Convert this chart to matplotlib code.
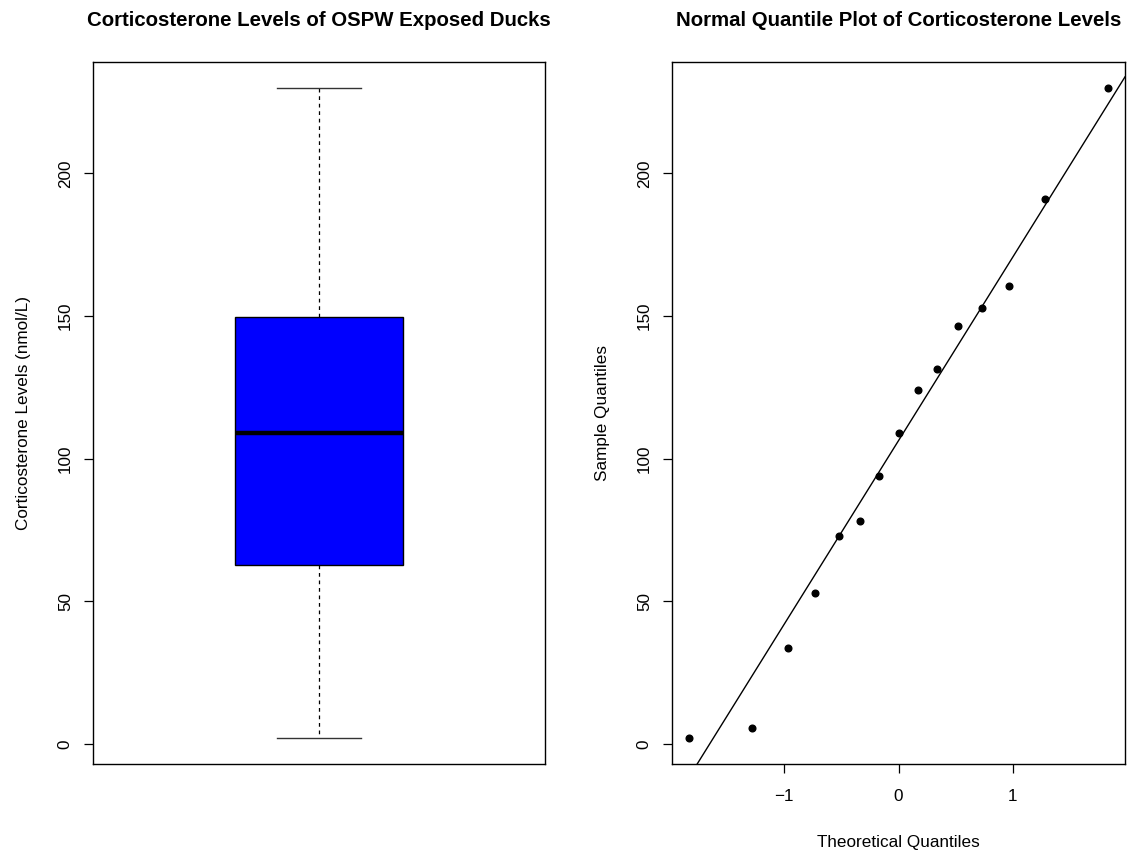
import matplotlib
matplotlib.use("Agg")
import matplotlib.pyplot as plt
import numpy as np

plt.rcParams['font.family'] = ['Liberation Sans', 'DejaVu Sans']

# corticosterone levels (nmol/L)
levels = [2.0, 5.6, 33.6, 53.0, 72.8, 78.2, 94.0, 109.0, 124.0, 131.3,
          146.6, 152.9, 160.5, 191.0, 230.0]
box_title = "Corticosterone Levels of OSPW Exposed Ducks"
qq_title = "Normal Quantile Plot of Corticosterone Levels"
y_label = "Corticosterone Levels (nmol/L)"


def norm_ppf(p):
    # inverse normal cdf by bisection on erf
    from math import erf, sqrt
    lo, hi = -10.0, 10.0
    for _ in range(100):
        mid = (lo + hi) / 2
        if 0.5 * (1 + erf(mid / sqrt(2))) < p:
            lo = mid
        else:
            hi = mid
    return (lo + hi) / 2


data = np.sort(np.array(levels))
n = len(data)
a = 3 / 8 if n <= 10 else 0.5
theo = np.array([norm_ppf((i - a) / (n + 1 - 2 * a)) for i in range(1, n + 1)])

# qqline through the quartiles
q1, q3 = np.quantile(data, [0.25, 0.75])
z1, z3 = norm_ppf(0.25), norm_ppf(0.75)
slope = (q3 - q1) / (z3 - z1)
intercept = q1 - slope * z1

fig = plt.figure(figsize=(11.29, 8.5), dpi=100)
ax1 = fig.add_axes([93 / 1129, 1 - 764.3 / 850, 452 / 1129, 702.5 / 850])
ax2 = fig.add_axes([672 / 1129, 1 - 764.3 / 850, 453 / 1129, 702.5 / 850])

fs = 12.3
tfs = 14.7
pad_y = 0.04 * (data.max() - data.min())
ylim = (data.min() - pad_y, data.max() + pad_y)

# box plot
ax1.boxplot([data], positions=[1], widths=0.37, whis=(0, 100),
            patch_artist=True, manage_ticks=False,
            boxprops=dict(facecolor='blue', edgecolor='black', linewidth=1),
            medianprops=dict(color='black', linewidth=3.2),
            whiskerprops=dict(color='black', linewidth=0.9, linestyle=(0, (3, 3))),
            capprops=dict(color='#333333', linewidth=1),
            capwidths=0.185, showfliers=False)
ax1.set_xlim(0.5, 1.5)
ax1.set_ylim(*ylim)
ax1.set_xticks([])
ax1.set_yticks([0, 50, 100, 150, 200])
ax1.set_ylabel(y_label, fontsize=fs, labelpad=19)
ax1.set_title(box_title, fontsize=tfs, fontweight='bold', pad=26)

# normal quantile plot
ax2.plot(theo, data, 'o', color='black', markersize=4.8)
ax2.axline((0, intercept), slope=slope, color='black', linewidth=1)
pad_x = 0.04 * (theo.max() - theo.min())
ax2.set_xlim(theo.min() - pad_x, theo.max() + pad_x)
ax2.set_ylim(*ylim)
ax2.set_xticks([-1, 0, 1])
ax2.set_yticks([0, 50, 100, 150, 200])
ax2.set_xlabel("Theoretical Quantiles", fontsize=fs, labelpad=22)
ax2.set_ylabel("Sample Quantiles", fontsize=fs, labelpad=19)
ax2.set_title(qq_title, fontsize=tfs, fontweight='bold', pad=26)

for ax in (ax1, ax2):
    ax.tick_params(axis='y', direction='out', length=6.5, width=0.9,
                   labelsize=fs, pad=8)
    ax.tick_params(axis='x', direction='out', length=6.5, width=0.9,
                   labelsize=fs, pad=11.5)
    for lab in ax.get_yticklabels():
        lab.set_rotation(90)
        lab.set_va('center')
    for sp in ax.spines.values():
        sp.set_linewidth(1)

fig.savefig("out.png", dpi=100)
